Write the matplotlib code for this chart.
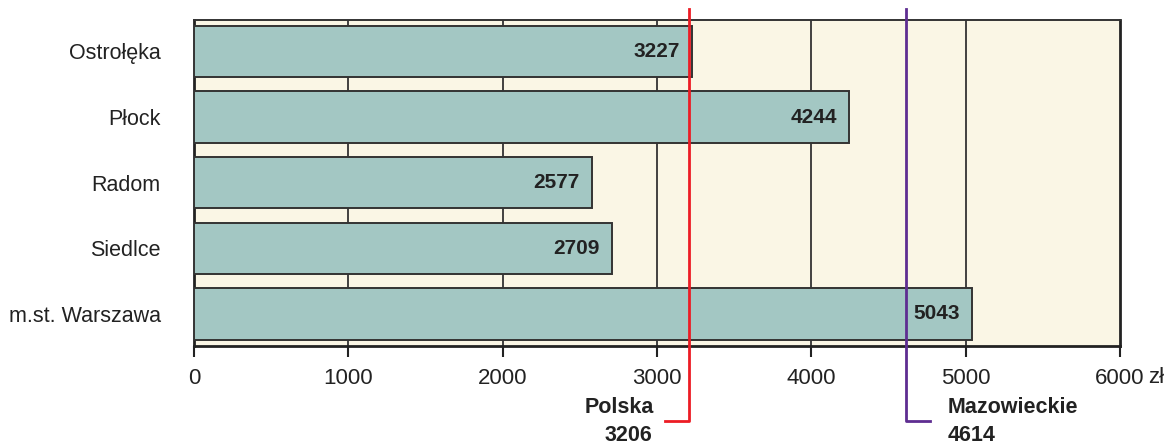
import matplotlib.pyplot as plt
from matplotlib.transforms import blended_transform_factory

# dane: przeciętne wynagrodzenie brutto (zł)
miasta  = ["Ostrołęka", "Płock", "Radom", "Siedlce", "m.st. Warszawa"]
wartosci = [3227, 4244, 2577, 2709, 5043]

polska       = 3206
mazowieckie  = 4614
x_ticks      = [0, 1000, 2000, 3000, 4000, 5000, 6000]

kolor_tla    = "#FAF6E5"
kolor_slupka = "#A3C7C3"
kolor_krawedzi = "#333333"
kolor_polska = "#EC1C24"
kolor_mazow  = "#5E2D91"

plt.rcParams["font.family"] = ["Liberation Sans", "DejaVu Sans"]

fig = plt.figure(figsize=(11.7, 4.45), dpi=100)
ax = fig.add_axes([194/1170, 99/445, 926/1170, 326/445])
ax.set_facecolor(kolor_tla)

y = list(range(len(miasta)))
ax.barh(y, wartosci, height=0.785, color=kolor_slupka,
        edgecolor=kolor_krawedzi, linewidth=1.4, zorder=3)

for yi, v in zip(y, wartosci):
    ax.text(v - 80, yi, str(v), ha="right", va="center",
            fontsize=15, fontweight="bold", color="#222222", zorder=4)

# siatka pionowa
for xt in x_ticks[1:-1]:
    ax.axvline(xt, color="#333333", linewidth=1.3, zorder=1)

ax.set_xlim(0, 6000)
ax.set_ylim(4.49, -0.48)
ax.set_xticks(x_ticks)
ax.set_xticklabels([str(t) for t in x_ticks])
ax.set_yticks(y)
ax.set_yticklabels(miasta)
ax.tick_params(axis="y", length=0, pad=24, labelsize=15.5, labelcolor="#222222")
ax.tick_params(axis="x", length=8, width=1.5, pad=8, labelsize=16,
               labelcolor="#222222", color="#222222")

for s in ["left", "bottom", "right"]:
    ax.spines[s].set_linewidth(2.0)
    ax.spines[s].set_color("#222222")
ax.spines["top"].set_linewidth(1.4)
ax.spines["top"].set_color("#333333")

# jednostka przy ostatniej etykiecie
ax.annotate("zł", xy=(6000, 0), xycoords=("data", "axes fraction"),
            xytext=(20, -23), textcoords="offset points",
            ha="left", va="center", fontsize=16, color="#222222")

# linie średnich: Polska i Mazowieckie
trans = blended_transform_factory(ax.transData, ax.transAxes)
y_top, y_hak = 1.034, -0.23
hak = 155

ax.plot([polska, polska, polska - hak], [y_top, y_hak, y_hak],
        color=kolor_polska, linewidth=2.0, transform=trans, clip_on=False, zorder=5)
ax.plot([mazowieckie, mazowieckie, mazowieckie + hak], [y_top, y_hak, y_hak],
        color=kolor_mazow, linewidth=2.0, transform=trans, clip_on=False, zorder=5)

ax.text(polska - 225, -0.19, "Polska", ha="right", va="center", fontsize=15.5,
        fontweight="bold", color="#222222", transform=trans)
ax.text(polska - 235, -0.275, str(polska), ha="right", va="center", fontsize=15.5,
        fontweight="bold", color="#222222", transform=trans)
ax.text(mazowieckie + 266, -0.19, "Mazowieckie", ha="left", va="center", fontsize=15.5,
        fontweight="bold", color="#222222", transform=trans)
ax.text(mazowieckie + 266, -0.275, str(mazowieckie), ha="left", va="center", fontsize=15.5,
        fontweight="bold", color="#222222", transform=trans)

fig.savefig("out.png", dpi=100)
